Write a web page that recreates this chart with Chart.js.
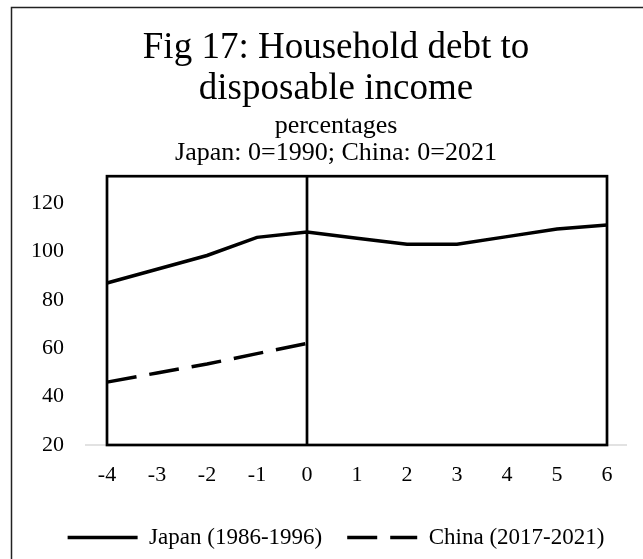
<!DOCTYPE html>
<html>
<head>
<meta charset="utf-8">
<script src="https://cdn.jsdelivr.net/npm/chart.js@4.4.1/dist/chart.umd.min.js"></script>
<style>
  html, body { margin: 0; padding: 0; background: #fff; }
  #wrap { width: 643px; height: 559px; }
</style>
</head>
<body>
<div id="wrap"><canvas id="debtChart" width="643" height="559"></canvas></div>
<script>
// years relative to the reference year (Japan 1990, China 2021)
const years = [-4, -3, -2, -1, 0, 1, 2, 3, 4, 5, 6];
const japan = [87, 92.7, 98.4, 105.9, 108.1, 105.5, 103.1, 103.1, 106.2, 109.4, 111];
const chinaYears = [-4, -3, -2, -1, 0];
const china = [46, 49.8, 53.5, 57.8, 62];
const yTicks = [20, 40, 60, 80, 100, 120];

const titleLines = ['Fig 17: Household debt to', 'disposable income'];
const subtitleLines = ['percentages', 'Japan: 0=1990; China: 0=2021'];
const seriesNames = ['Japan (1986-1996)', 'China (2017-2021)'];

const serif = "'Liberation Serif', 'Times New Roman', serif";
const yMin = 20, yMax = 131.2;
const xMin = -4.44, xMax = 6.72;
const axisEnd = 6.4; // grey category axis stops short of the right edge

// outer frame, grey axis line and the black box with the marker at year 0
const framePlugin = {
  id: 'framePlugin',
  beforeDraw(chart) {
    const ctx = chart.ctx;
    ctx.save();
    ctx.fillStyle = '#fff';
    ctx.fillRect(0, 0, chart.width, chart.height);
    ctx.strokeStyle = '#222';
    ctx.lineWidth = 1.5;
    ctx.strokeRect(11.5, 7.5, chart.width + 50, chart.height + 50);
    ctx.restore();
  },
  beforeDatasetsDraw(chart) {
    const { ctx, scales: { x, y } } = chart;
    const base = y.getPixelForValue(yMin);
    const top = chart.chartArea.top;
    ctx.save();
    ctx.strokeStyle = '#d9d9d9';
    ctx.lineWidth = 1.5;
    ctx.beginPath();
    ctx.moveTo(x.getPixelForValue(xMin), base);
    ctx.lineTo(x.getPixelForValue(axisEnd), base);
    ctx.stroke();

    const left = x.getPixelForValue(years[0]);
    const right = x.getPixelForValue(years[years.length - 1]);
    const zero = x.getPixelForValue(0);
    ctx.strokeStyle = '#000';
    ctx.lineWidth = 2.7;
    ctx.strokeRect(left, top, right - left, base - top);
    ctx.beginPath();
    ctx.moveTo(zero, top);
    ctx.lineTo(zero, base);
    ctx.stroke();
    ctx.restore();
  }
};

const ctx = document.getElementById('debtChart').getContext('2d');
const debtChart = new Chart(ctx, {
  type: 'line',
  data: {
    datasets: [
      {
        label: seriesNames[0],
        data: years.map((x, i) => ({ x: x, y: japan[i] })),
        borderColor: '#000',
        backgroundColor: '#000',
        borderWidth: 3.5,
        pointRadius: 0,
        tension: 0
      },
      {
        label: seriesNames[1],
        data: chinaYears.map((x, i) => ({ x: x, y: china[i] })),
        borderColor: '#000',
        backgroundColor: '#000',
        borderWidth: 3.5,
        borderDash: [30, 13],
        pointRadius: 0,
        tension: 0
      }
    ]
  },
  options: {
    responsive: false,
    animation: false,
    layout: { padding: { left: 29, right: 0, top: 0, bottom: 0 } },
    scales: {
      x: {
        type: 'linear',
        min: xMin,
        max: xMax,
        afterBuildTicks: s => { s.ticks = years.map(v => ({ value: v })); },
        afterFit: s => { s.height = 56; },
        grid: { display: false, drawTicks: false },
        border: { display: false },
        ticks: {
          color: '#000',
          padding: 17,
          font: { family: serif, size: 22 },
          callback: v => String(v)
        }
      },
      y: {
        min: yMin,
        max: yMax,
        afterBuildTicks: s => { s.ticks = yTicks.map(v => ({ value: v })); },
        afterFit: s => { s.width = 56; },
        grid: { display: false, drawTicks: false },
        border: { display: false },
        ticks: {
          color: '#000',
          padding: 21,
          font: { family: serif, size: 22 },
          callback: v => String(v)
        }
      }
    },
    plugins: {
      title: {
        display: true,
        text: titleLines,
        color: '#000',
        font: { family: serif, size: 37, weight: 'normal', lineHeight: 1.11 },
        padding: { top: 28, bottom: 2.8 }
      },
      subtitle: {
        display: true,
        text: subtitleLines,
        color: '#000',
        font: { family: serif, size: 26, weight: 'normal', lineHeight: 1.03 },
        padding: { top: 0, bottom: 9.7 }
      },
      legend: {
        position: 'bottom',
        labels: {
          usePointStyle: true,
          pointStyle: 'line',
          pointStyleWidth: 70,
          color: '#000',
          padding: 25,
          font: { family: serif, size: 23 },
          // point-style items don't pick up the line dash, so copy it over
          generateLabels: chart => {
            const items = Chart.defaults.plugins.legend.labels.generateLabels(chart);
            items.forEach(item => {
              const ds = chart.data.datasets[item.datasetIndex];
              item.lineDash = ds.borderDash || [];
              item.lineWidth = ds.borderWidth;
              item.strokeStyle = ds.borderColor;
            });
            return items;
          }
        }
      },
      tooltip: { enabled: false }
    }
  },
  plugins: [framePlugin]
});
</script>
</body>
</html>
